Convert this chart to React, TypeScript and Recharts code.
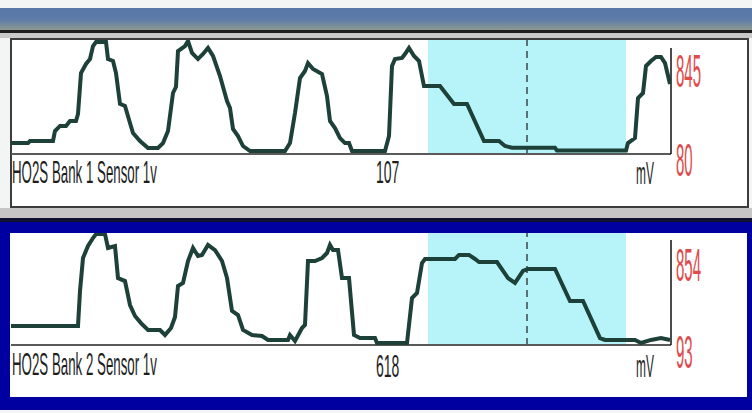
import React from "react";
import { Line, LineChart, ReferenceArea, ReferenceLine, XAxis, YAxis } from "recharts";

// time in seconds across the visible window, values in mV
const bank1Time = [
  0, 1.7, 1.9, 4.2, 4.4, 4.9, 5.5, 5.9, 6.5, 6.7, 7.0, 7.5, 7.9, 8.2, 8.5, 9.5, 9.7, 10.2, 10.5,
  10.9, 11.4, 11.9, 12.2, 12.9, 13.7, 14.7, 15.2, 15.7, 16.2, 16.5, 16.7, 17.4, 17.7, 18.1, 18.7,
  19.2, 19.7, 20.2, 20.9, 21.6, 21.9, 22.2, 22.7, 23.2, 23.9, 27.4, 27.9, 28.4, 28.9, 29.4, 29.7,
  30.2, 31.1, 31.6, 31.9, 32.4, 32.9, 33.4, 33.8, 34.1, 37.4, 37.8, 38.1, 38.4, 39.1, 39.4, 39.8,
  40.3, 40.8, 41.3, 42.9, 44.3, 45.6, 47.3, 48.8, 49.4, 50.1, 54.4, 54.6, 61.5, 61.7, 62.4, 62.7,
  63.2, 63.5, 64.0, 64.5, 65.0, 65.4, 65.9,
];
const bank1Mv = [
  96, 96, 114, 114, 202, 246, 246, 290, 290, 351, 710, 790, 833, 947, 982, 982, 833, 816, 710,
  439, 421, 272, 184, 114, 53, 53, 96, 202, 535, 590, 903, 947, 991, 886, 833,
  877, 930, 860, 684, 465, 404, 219, 158, 70, 26, 26, 96, 360, 667, 728, 798,
  746, 702, 509, 290, 228, 140, 96, 96, 26, 26, 158, 772, 833, 842, 877, 930,
  860, 816, 596, 596, 439, 439, 114, 114, 70, 55, 55, 30, 30, 96, 140, 491,
  535, 772, 816, 851, 851, 798, 614,
];

const bank2Time = [
  0, 6.7, 6.9, 7.2, 7.7, 8.2, 8.5, 9.4, 9.7, 10.4, 10.7, 11.4, 11.9, 12.4, 13.0, 13.7, 14.9, 15.4,
  16.0, 16.4, 16.7, 17.2, 17.7, 18.2, 18.7, 19.1, 19.7, 20.4, 21.1, 21.6, 22.1, 22.7, 23.2, 24.1,
  25.1, 25.7, 27.7, 27.9, 28.4, 29.1, 29.4, 29.7, 30.4, 31.1, 31.6, 31.9, 32.2, 32.7, 33.1, 33.8,
  34.3, 34.9, 36.4, 36.6, 39.6, 40.1, 40.6, 41.1, 41.4, 44.4, 44.8, 45.8, 46.4, 46.8, 48.6, 49.7,
  50.4, 51.2, 51.7, 54.4, 55.9, 57.2, 58.9, 59.4, 62.4, 63.0, 64.0, 65.0, 65.9,
];
const bank2Mv = [
  170, 170, 482, 777, 884, 955, 990, 990, 866, 884, 598, 571, 357, 259, 196, 134, 134, 89,
  152, 250, 527, 554, 750, 866, 795, 804, 893, 848, 750, 598, 304, 268, 134, 89,
  80, 45, 45, 89, 36, 152, 179, 750, 750, 777, 821, 893, 848, 848, 598, 598,
  89, 62, 62, 18, 18, 420, 464, 732, 768, 768, 804, 804, 768, 741, 741, 598,
  554, 661, 679, 679, 393, 393, 62, 45, 45, 18, 45, 62, 45,
];

const sensorNames = ["HO2S Bank 1 Sensor 1v", "HO2S Bank 2 Sensor 1v"];
const currentValues = ["107", "618"];
const scaleMax = ["845", "854"];
const scaleMin = ["80", "93"];

const windowStart = 41.7;
const windowEnd = 61.5;
const cursorTime = 51.6;
const timeEnd = 66;

const toRows = (t: number[], v: number[]) => t.map((time, i) => ({ t: time, mv: v[i] }));

function Txt({ x, y, text, size, sx, sy, color }: any) {
  // y = top of the capitals; narrow, tall scan-tool lettering
  const capOffset = size * 0.13;
  return (
    <div
      style={{
        position: "absolute",
        left: x,
        top: y - capOffset * sy,
        fontSize: size,
        lineHeight: `${size}px`,
        color,
        whiteSpace: "nowrap",
        transform: `scale(${sx}, ${sy})`,
        transformOrigin: "0 0",
      }}
    >
      {text}
    </div>
  );
}

function Trace({ rows, plotTop, plotH, axisTopMv }: any) {
  return (
    <div style={{ position: "absolute", left: 9, top: plotTop - 2 }}>
      <LineChart
        width={664}
        height={plotH + 4}
        data={rows}
        margin={{ top: 2, right: 2, bottom: 2, left: 2 }}
      >
        <XAxis dataKey="t" type="number" domain={[0, timeEnd]} hide allowDataOverflow />
        <YAxis domain={[0, 1000]} hide allowDataOverflow />
        <ReferenceArea
          x1={windowStart}
          x2={windowEnd}
          y1={0}
          y2={1000}
          fill="#b7f4f9"
          fillOpacity={1}
          stroke="none"
        />
        <ReferenceLine x={cursorTime} stroke="#2b2b2b" strokeWidth={1.3} strokeDasharray="7 5" />
        <ReferenceLine y={0} stroke="#5a5a5a" strokeWidth={2} />
        <ReferenceLine
          segment={[
            { x: timeEnd, y: 0 },
            { x: timeEnd, y: axisTopMv },
          ]}
          stroke="#111"
          strokeWidth={1.5}
        />
        <Line
          dataKey="mv"
          type="linear"
          stroke="#1d4038"
          strokeWidth={4}
          dot={false}
          isAnimationActive={false}
        />
      </LineChart>
    </div>
  );
}

export default function App() {
  const rows1 = toRows(bank1Time, bank1Mv);
  const rows2 = toRows(bank2Time, bank2Mv);
  const black = "#1e1e1e";
  const red = "#e04a4a";

  return (
    <div
      style={{
        position: "absolute",
        left: 0,
        top: 0,
        width: 752,
        height: 413,
        overflow: "hidden",
        background: "#f3f5f5",
        fontFamily: '"Liberation Sans", Arial, sans-serif',
      }}
    >
      {/* title strip */}
      <div
        style={{
          position: "absolute",
          left: 0,
          top: 8,
          width: 752,
          height: 22,
          background: "linear-gradient(#5877a6 0%, #5f7ca7 55%, #8e9b90 100%)",
        }}
      />
      <div style={{ position: "absolute", left: 0, top: 30, width: 752, height: 3, background: "#1e1e1e" }} />
      <div style={{ position: "absolute", left: 0, top: 33, width: 752, height: 5, background: "#c9c9c9" }} />

      {/* panel 1 */}
      <div
        style={{
          position: "absolute",
          left: 10,
          top: 38,
          width: 739,
          height: 170,
          boxSizing: "border-box",
          border: "2px solid #3c3c3c",
          background: "#fff",
        }}
      />
      <div style={{ position: "absolute", left: 0, top: 208, width: 752, height: 10, background: "#c6c6c6" }} />

      {/* panel 2 (selected) */}
      <div
        style={{
          position: "absolute",
          left: 0,
          top: 218,
          width: 752,
          height: 192,
          background: "#0000a0",
          borderTop: "4px solid #101030",
          boxSizing: "border-box",
        }}
      />
      <div style={{ position: "absolute", left: 10, top: 233, width: 737, height: 164, background: "#fff" }} />

      <Trace rows={rows1} plotTop={40} plotH={114} axisTopMv={930} />
      <Trace rows={rows2} plotTop={233} plotH={112} axisTopMv={937} />

      <Txt x={12} y={159} text={sensorNames[0]} size={14} sx={0.95} sy={2.3} color={black} />
      <Txt x={376} y={159} text={currentValues[0]} size={14} sx={1} sy={2.3} color={black} />
      <Txt x={636} y={160} text="mV" size={14} sx={0.85} sy={2.3} color={black} />
      <Txt x={676} y={53} text={scaleMax[0]} size={15} sx={1} sy={3.07} color={red} />
      <Txt x={676} y={142} text={scaleMin[0]} size={15} sx={1} sy={3.07} color={red} />

      <Txt x={12} y={351} text={sensorNames[1]} size={14} sx={0.95} sy={2.3} color={black} />
      <Txt x={376} y={353} text={currentValues[1]} size={14} sx={1} sy={2.3} color={black} />
      <Txt x={636} y={353} text="mV" size={14} sx={0.85} sy={2.3} color={black} />
      <Txt x={676} y={247} text={scaleMax[1]} size={15} sx={1} sy={3.07} color={red} />
      <Txt x={676} y={334} text={scaleMin[1]} size={15} sx={1} sy={3.07} color={red} />
    </div>
  );
}
